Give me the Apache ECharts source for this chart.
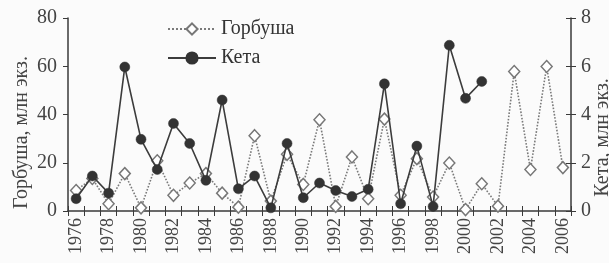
<!DOCTYPE html>
<html>
<head>
<meta charset="utf-8">
<title>Горбуша и Кета</title>
<script src="https://cdn.jsdelivr.net/npm/echarts@6/dist/echarts.min.js"></script>
<style>
	html, body {margin: 0; padding: 0; background: #fbfbfb;}
	#chart {width: 609px; height: 263px;}
</style>
</head>
<body>
<div id="chart"></div>
<script>
// datos
var years= ['1976', '1977', '1978', '1979', '1980', '1981', '1982', '1983', '1984', '1985',
	'1986', '1987', '1988', '1989', '1990', '1991', '1992', '1993', '1994', '1995',
	'1996', '1997', '1998', '1999', '2000', '2001', '2002', '2003', '2004', '2005', '2006'];
// горбуша, млн экз. (ось слева)
var gorbusha= [8.5, 13.5, 3.0, 15.5, 1.3, 20.8, 6.5, 11.6, 15.5, 7.4,
	1.6, 31.2, 4.1, 23.5, 11.0, 37.8, 1.9, 22.4, 5.1, 38.1,
	6.5, 21.7, 5.8, 19.9, 0.6, 11.3, 2.0, 57.8, 17.2, 59.9, 18.0];
// кета, млн экз. (ось справа), нет данных после 2001
var keta= [0.51, 1.45, 0.74, 5.97, 2.97, 1.72, 3.63, 2.80, 1.27, 4.60,
	0.92, 1.45, 0.13, 2.80, 0.55, 1.16, 0.85, 0.60, 0.90, 5.27,
	0.30, 2.69, 0.19, 6.87, 4.67, 5.37, null, null, null, null, null];
var leftTicks= [0, 20, 40, 60, 80];
var rightTicks= [0, 2, 4, 6, 8];

var font= 'Liberation Serif';
var ink= '#3a3a3a';

var chart= echarts.init(document.getElementById('chart'), null, {renderer: 'canvas'});

// ejes duplicados para que las marcas crucen la linea del eje
function tickAxis(position, inside) {
	return {
		type: 'category', position: position, data: years, boundaryGap: true,
		axisLine: {show: false}, axisLabel: {show: false},
		axisTick: {show: true, inside: inside, length: 5, interval: 0, lineStyle: {color: ink, width: 1}}
	};
}

chart.setOption({
	backgroundColor: '#fbfbfb',
	animation: false,
	grid: {left: 68, right: 38, top: 18, bottom: 52, outerBoundsMode: 'none', containLabel: false},
	legend: {
		left: 162, top: 14, orient: 'vertical', itemGap: 9,
		itemWidth: 48, itemHeight: 14,
		textStyle: {fontFamily: font, fontSize: 20, color: '#333'},
		data: ['Горбуша', 'Кета']
	},
	xAxis: [
		{
			type: 'category', position: 'bottom', data: years, boundaryGap: true,
			axisLine: {show: true, lineStyle: {color: ink, width: 1.5}},
			axisTick: {show: true, length: 5, interval: 0, lineStyle: {color: ink, width: 1}},
			axisLabel: {interval: 1, rotate: 90, margin: 7, fontFamily: font, fontSize: 18, color: '#444'}
		},
		tickAxis('bottom', true)
	],
	yAxis: [
		{
			type: 'value', position: 'left', min: 0, max: 80, interval: 20,
			name: 'Горбуша, млн экз.', nameLocation: 'middle', nameGap: 36, nameRotate: 90,
			nameMoveOverlap: false,
			nameTextStyle: {fontFamily: font, fontSize: 20, color: '#444', padding: [0, 36, 0, 0]},
			axisLine: {show: true, lineStyle: {color: ink, width: 1.5}},
			axisTick: {show: true, length: 5, lineStyle: {color: ink}},
			axisLabel: {margin: 11, fontFamily: font, fontSize: 20, color: '#444',
				formatter: function(v) {return leftTicks.indexOf(v)>= 0? String(v): '';}},
			splitLine: {show: false}
		},
		{
			type: 'value', position: 'right', min: 0, max: 8, interval: 2,
			name: 'Кета, млн экз.', nameLocation: 'middle', nameGap: 22, nameRotate: 90,
			nameMoveOverlap: false,
			nameTextStyle: {fontFamily: font, fontSize: 20, color: '#444', padding: [0, 46, 0, 0]},
			axisLine: {show: true, lineStyle: {color: ink, width: 1.5}},
			axisTick: {show: true, length: 5, lineStyle: {color: ink}},
			axisLabel: {margin: 10, fontFamily: font, fontSize: 20, color: '#444',
				formatter: function(v) {return rightTicks.indexOf(v)>= 0? String(v): '';}},
			splitLine: {show: false}
		},
		{
			type: 'value', position: 'right', min: 0, max: 8, interval: 2,
			axisLine: {show: false}, axisLabel: {show: false}, splitLine: {show: false},
			axisTick: {show: true, inside: true, length: 5, lineStyle: {color: ink}}
		}
	],
	series: [
		{
			name: 'Горбуша', type: 'line', xAxisIndex: 0, yAxisIndex: 0,
			data: gorbusha, symbol: 'diamond', symbolSize: [11, 12], showAllSymbol: true,
			lineStyle: {color: '#7a7a7a', width: 1.6, type: 'dotted'},
			itemStyle: {color: '#fff', borderColor: '#777', borderWidth: 1.5},
			z: 2
		},
		{
			name: 'Кета', type: 'line', xAxisIndex: 0, yAxisIndex: 1,
			data: keta, symbol: 'circle', symbolSize: 10, showAllSymbol: true, connectNulls: false,
			lineStyle: {color: '#3c3c3c', width: 1.6},
			itemStyle: {color: '#333', borderColor: '#333', borderWidth: 0.5},
			z: 3
		}
	]
});
</script>
</body>
</html>
